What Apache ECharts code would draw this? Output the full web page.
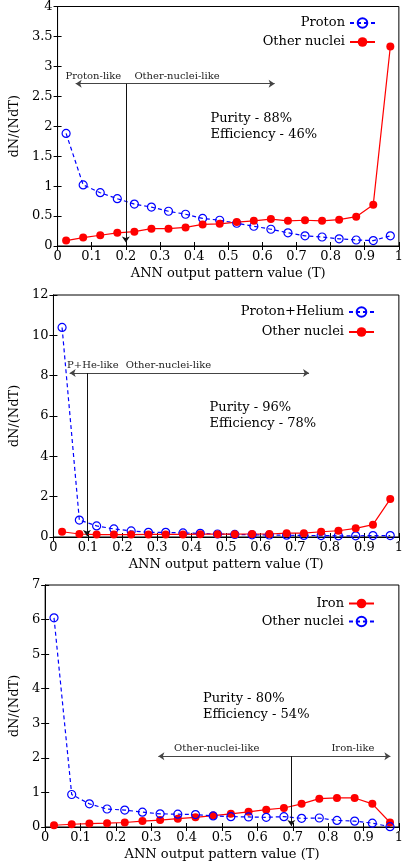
<!DOCTYPE html>
<html>
<head>
<meta charset="utf-8">
<script src="https://cdn.jsdelivr.net/npm/echarts@6/dist/echarts.min.js"></script>
<style>
  html, body { margin: 0; padding: 0; background: #fff; }
  #chart { width: 406px; height: 863px; }
</style>
</head>
<body>
<div id="chart"></div>
<script>
// Bin centres of the ANN output T (20 bins of width 0.05)
const binCentres = [0.025, 0.075, 0.125, 0.175, 0.225, 0.275, 0.325, 0.375, 0.425, 0.475,
                    0.525, 0.575, 0.625, 0.675, 0.725, 0.775, 0.825, 0.875, 0.925, 0.975];

// Proton vs other nuclei
const protonValues  = [1.88, 1.02, 0.89, 0.79, 0.70, 0.65, 0.58, 0.53, 0.46, 0.43,
                       0.38, 0.33, 0.28, 0.22, 0.17, 0.15, 0.12, 0.10, 0.09, 0.17];
const otherVsProton = [0.09, 0.14, 0.18, 0.22, 0.24, 0.29, 0.29, 0.31, 0.36, 0.37,
                       0.40, 0.42, 0.45, 0.42, 0.43, 0.42, 0.44, 0.49, 0.69, 3.33];

// Proton+Helium vs other nuclei
const pHeValues     = [10.39, 0.84, 0.55, 0.40, 0.30, 0.23, 0.23, 0.20, 0.18, 0.15,
                       0.13, 0.11, 0.10, 0.09, 0.08, 0.07, 0.06, 0.06, 0.07, 0.07];
const otherVsPHe    = [0.26, 0.15, 0.12, 0.12, 0.12, 0.13, 0.13, 0.13, 0.14, 0.14,
                       0.14, 0.15, 0.15, 0.19, 0.19, 0.26, 0.31, 0.43, 0.61, 1.88];

// Iron vs other nuclei
const ironValues    = [0.05, 0.08, 0.10, 0.11, 0.13, 0.17, 0.20, 0.24, 0.28, 0.33,
                       0.38, 0.44, 0.50, 0.55, 0.67, 0.82, 0.84, 0.84, 0.67, 0.13];
const otherVsIron   = [6.05, 0.94, 0.67, 0.52, 0.49, 0.43, 0.38, 0.37, 0.36, 0.32,
                       0.30, 0.29, 0.28, 0.30, 0.25, 0.26, 0.19, 0.17, 0.11, 0.01];

// Axis ranges and tick steps
const xRange = [0, 1, 0.1];
const yRanges = [[0, 4, 0.5], [0, 12, 2], [0, 7, 1]];

// Texts
const xTitle = 'ANN output pattern value (T)';
const yTitle = 'dN/(NdT)';
const legendNames = [['Proton', 'Other nuclei'], ['Proton+Helium', 'Other nuclei'], ['Iron', 'Other nuclei']];
const scoreTexts = [['Purity - 88%', 'Efficiency - 46%'],
                    ['Purity - 96%', 'Efficiency - 78%'],
                    ['Purity - 80%', 'Efficiency - 54%']];
const regionTexts = [['Proton-like', 'Other-nuclei-like'],
                     ['P+He-like', 'Other-nuclei-like'],
                     ['Other-nuclei-like', 'Iron-like']];

// ---------- layout (pixels / data-space anchors for annotations) ----------
const FONT = 'DejaVu Serif';
const grids = [
  { left: 46, top: 5, width: 357, height: 241 },
  { left: 38, top: 295, width: 366, height: 242 },
  { left: 38, top: 585, width: 366, height: 242 }
];
const legendPos = [
  { right: 25, top: 11.5, itemGap: 6 },
  { right: 26, top: 300.5, itemGap: 7 },
  { right: 26, top: 592, itemGap: 5 }
];
// cut arrows: horizontal span [x0, x1] at y, vertical marker at xc going down to yEnd
const cutArrows = [
  { x0: 0.053, x1: 0.636, y: 2.71, xc: 0.2, yEnd: 0.06 },
  { x0: 0.047, x1: 0.74, y: 8.13, xc: 0.097, yEnd: 0.05 },
  { x0: 0.32, x1: 0.976, y: 2.05, xc: 0.696, yEnd: 0.03 }
];
const regionAnchors = [
  [[0.105, 2.84], [0.35, 2.84]],
  [[0.114, 8.5], [0.333, 8.5]],
  [[0.485, 2.28], [0.87, 2.28]]
];
const scoreAnchors = [[0.448, 2.0], [0.452, 6.02], [0.446, 3.48]];

const BLUE = '#0000ff';
const RED = '#ff0000';
const ARROW = '#444444';

function pairs(ys) { return binCentres.map((x, i) => [x, ys[i]]); }

function blueSeries(name, ys, gi) {
  return {
    type: 'line', name, xAxisIndex: gi * 2, yAxisIndex: gi * 2, data: pairs(ys),
    symbol: 'circle', symbolSize: 8,
    itemStyle: { color: 'rgba(255,255,255,0)', borderColor: BLUE, borderWidth: 1.2 },
    lineStyle: { color: BLUE, width: 1.2, type: [4, 3] },
    z: 3
  };
}
function redSeries(name, ys, gi) {
  return {
    type: 'line', name, xAxisIndex: gi * 2, yAxisIndex: gi * 2, data: pairs(ys),
    symbol: 'circle', symbolSize: 8,
    itemStyle: { color: RED, borderWidth: 0 },
    lineStyle: { color: RED, width: 1.2, type: 'solid' },
    z: 3
  };
}

// Annotation series per panel: cut arrows, region labels, purity/efficiency text
function annotation(gi) {
  const a = cutArrows[gi];
  const lineStyle = { color: ARROW, width: 1, type: 'solid' };
  return {
    type: 'line', name: 'notes' + gi, xAxisIndex: gi * 2, yAxisIndex: gi * 2,
    data: [], silent: true, z: 2,
    markLine: {
      silent: true, animation: false, symbolSize: 6,
      label: { show: false },
      data: [
        [{ coord: [a.x0, a.y], symbol: 'arrow', lineStyle },
         { coord: [a.x1, a.y], symbol: 'arrow' }],
        [{ coord: [a.xc, a.y], symbol: 'none', lineStyle: { color: '#111', width: 1, type: 'solid' } },
         { coord: [a.xc, a.yEnd], symbol: 'arrow' }]
      ]
    },
    markPoint: {
      silent: true, animation: false, symbol: 'circle', symbolSize: 0,
      itemStyle: { color: 'rgba(0,0,0,0)' },
      data: [
        { coord: regionAnchors[gi][0],
          label: { show: true, position: 'inside', formatter: regionTexts[gi][0],
                   color: '#222', fontFamily: FONT, fontSize: 10 } },
        { coord: regionAnchors[gi][1],
          label: { show: true, position: 'inside', formatter: regionTexts[gi][1],
                   color: '#222', fontFamily: FONT, fontSize: 10 } },
        { coord: scoreAnchors[gi],
          label: { show: true, position: 'inside', align: 'left',
                   formatter: scoreTexts[gi].join('\n'), lineHeight: 16,
                   color: '#000', fontFamily: FONT, fontSize: 13 } }
      ]
    }
  };
}

const xAxes = [], yAxes = [];
grids.forEach((g, gi) => {
  const tick = { inside: true, length: 4, lineStyle: { color: '#000' } };
  const line = { show: true, lineStyle: { color: '#000', width: 1 } };
  xAxes.push({
    type: 'value', gridIndex: gi, position: 'bottom',
    min: xRange[0], max: xRange[1], interval: xRange[2],
    axisLine: line, axisTick: tick, splitLine: { show: false },
    axisLabel: { color: '#000', fontFamily: FONT, fontSize: 13, margin: 4 },
    name: xTitle, nameLocation: 'middle', nameGap: 21,
    nameTextStyle: { color: '#000', fontFamily: FONT, fontSize: 13 }
  });
  xAxes.push({
    type: 'value', gridIndex: gi, position: 'top',
    min: xRange[0], max: xRange[1], interval: xRange[2],
    axisLine: line, axisTick: tick, axisLabel: { show: false }, splitLine: { show: false }
  });
  const yr = yRanges[gi];
  yAxes.push({
    type: 'value', gridIndex: gi, position: 'left',
    min: yr[0], max: yr[1], interval: yr[2],
    axisLine: line, axisTick: tick, splitLine: { show: false },
    axisLabel: { color: '#000', fontFamily: FONT, fontSize: 13, margin: 5 },
    name: yTitle, nameLocation: 'middle', nameGap: gi === 0 ? 24 : 16,
    nameTextStyle: { color: '#000', fontFamily: FONT, fontSize: 13 }
  });
  yAxes.push({
    type: 'value', gridIndex: gi, position: 'right',
    min: yr[0], max: yr[1], interval: yr[2],
    axisLine: line, axisTick: tick, axisLabel: { show: false }, splitLine: { show: false }
  });
});

// The third panel's "Other nuclei" is a different series, so it gets its own key
const IRON_OTHER = 'Other nuclei (iron panel)';

const series = [
  blueSeries(legendNames[0][0], protonValues, 0),
  redSeries(legendNames[0][1], otherVsProton, 0),
  annotation(0),
  blueSeries(legendNames[1][0], pHeValues, 1),
  redSeries(legendNames[1][1], otherVsPHe, 1),
  annotation(1),
  redSeries(legendNames[2][0], ironValues, 2),
  blueSeries(IRON_OTHER, otherVsIron, 2),
  annotation(2)
];

const legendKeys = [legendNames[0], legendNames[1], [legendNames[2][0], IRON_OTHER]];
const legends = legendPos.map((p, gi) => ({
  orient: 'vertical', align: 'right', right: p.right, top: p.top, itemGap: p.itemGap,
  itemWidth: 25, itemHeight: 12, selectedMode: false,
  data: legendKeys[gi],
  formatter: name => name === IRON_OTHER ? legendNames[2][1] : name,
  textStyle: { color: '#000', fontFamily: FONT, fontSize: 13 }
}));

const chart = echarts.init(document.getElementById('chart'), null, { renderer: 'canvas' });
chart.setOption({
  backgroundColor: '#fff',
  animation: false,
  grid: grids.map(g => Object.assign({ show: true, borderColor: '#000', borderWidth: 1, containLabel: false }, g)),
  xAxis: xAxes,
  yAxis: yAxes,
  legend: legends,
  series
});
</script>
</body>
</html>
